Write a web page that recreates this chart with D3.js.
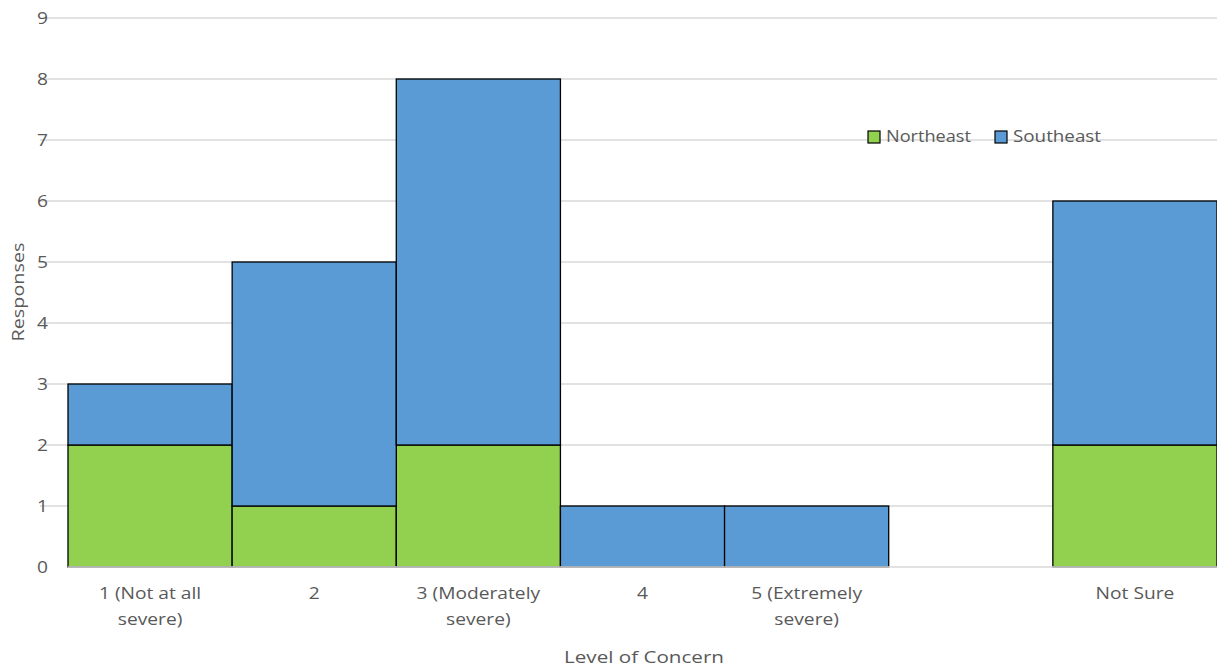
<!DOCTYPE html>
<html><head><meta charset="utf-8">
<script src="https://cdn.jsdelivr.net/npm/d3@7"></script>
<style>body{margin:0;background:#fff}svg text{font-family:"Open Sans","Noto Sans",sans-serif;fill:#595959}</style>
</head><body><svg id="c" width="1217" height="669"></svg>
<script>
const categories = [["1 (Not at all","severe)"],["2"],["3 (Moderately","severe)"],["4"],["5 (Extremely","severe)"],[""],["Not Sure"]];
const northeast = [2,1,2,0,0,0,2];
const southeast = [1,4,6,1,1,0,4];
const seriesNames = ["Northeast","Southeast"];
const colors = ["#92D050","#5B9BD5"];
const yTicks = [0,1,2,3,4,5,6,7,8,9];

const svg = d3.select("#c");
const m = {l:68,r:0,t:18,b:102};
const W = 1217, H = 669;
const x = d3.scaleBand().domain(d3.range(categories.length)).range([m.l, W-m.r]).padding(0);
const y = d3.scaleLinear().domain([0,9]).range([H-m.b, m.t]);
const SX = 1.2; // horizontal stretch of text

// gridlines
svg.append("g").selectAll("line").data(yTicks.filter(d=>d>0)).join("line")
  .attr("x1", 40).attr("x2", W).attr("y1", d=>y(d)).attr("y2", d=>y(d))
  .attr("stroke","#d9d9d9").attr("stroke-width",1.3);

// y tick labels
svg.append("g").selectAll("text").data(yTicks).join("text")
  .attr("transform", d=>`translate(48,${y(d)+6}) scale(${SX},1)`)
  .attr("text-anchor","end").attr("font-size",16).text(d=>d);

// stacked bars
const data = categories.map((c,i)=>({i, Northeast:northeast[i], Southeast:southeast[i]}));
const stack = d3.stack().keys(seriesNames)(data);
stack.forEach((s,k)=>{
  svg.append("g").selectAll("rect").data(s.filter(d=>d[1]-d[0]>0)).join("rect")
    .attr("x", d=>x(d.data.i)).attr("width", x.bandwidth())
    .attr("y", d=>y(d[1])).attr("height", d=>y(d[0])-y(d[1]))
    .attr("fill", colors[k]).attr("stroke","#000").attr("stroke-width",1.3);
});

// baseline
svg.append("line").attr("x1",m.l).attr("x2",W).attr("y1",y(0)).attr("y2",y(0)).attr("stroke","#d9d9d9").attr("stroke-width",1.3);

// x labels
const xl = svg.append("g");
categories.forEach((lines,i)=>{
  lines.forEach((ln,j)=>{
    xl.append("text").attr("transform", `translate(${x(i)+x.bandwidth()/2},${599 + j*26}) scale(${SX},1)`)
      .attr("text-anchor","middle").attr("font-size",16).text(ln);
  });
});

// axis titles
svg.append("text").attr("x",644).attr("y",663).attr("text-anchor","middle").attr("font-size",16.5)
  .attr("textLength",160).attr("lengthAdjust","spacingAndGlyphs").text("Level of Concern");
svg.append("text").attr("transform","translate(24,292) rotate(-90)").attr("text-anchor","middle").attr("font-size",16.5)
  .attr("textLength",99).attr("lengthAdjust","spacingAndGlyphs").text("Responses");

// legend
const leg = svg.append("g");
const lx = [868, 995];
const lw = [85, 88];
seriesNames.forEach((n,k)=>{
  leg.append("rect").attr("x",lx[k]).attr("y",131).attr("width",12).attr("height",12).attr("fill",colors[k]).attr("stroke","#000").attr("stroke-width",1.2);
  leg.append("text").attr("x",lx[k]+18).attr("y",142).attr("font-size",16.5)
    .attr("textLength",lw[k]).attr("lengthAdjust","spacingAndGlyphs").text(n);
});
</script></body></html>
